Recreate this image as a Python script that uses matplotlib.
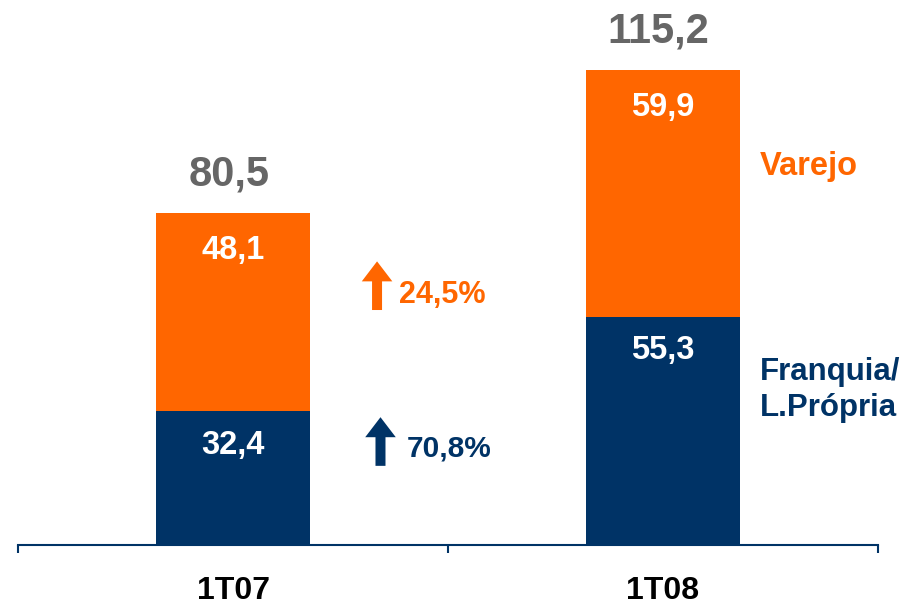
import matplotlib
matplotlib.use("Agg")
import matplotlib.pyplot as plt

plt.rcParams['font.family'] = ['Liberation Sans', 'DejaVu Sans']

categories = ['1T07', '1T08']
franquia = [32.4, 55.3]
varejo = [48.1, 59.9]
totals = [80.5, 115.2]
growth_varejo = '24,5%'
growth_franquia = '70,8%'

ORANGE = '#FF6600'
NAVY = '#003366'
GRAY = '#666666'

def fmt(v):
    return f"{v:.1f}".replace('.', ',')

fig = plt.figure(figsize=(9.08, 6.06), dpi=100)
ax = fig.add_axes([18/908, 61/606, 860/908, 545/606])
x = [0.5, 1.5]
w = 0.356
ax.bar(x, franquia, width=w, color=NAVY, zorder=2)
ax.bar(x, varejo, width=w, bottom=franquia, color=ORANGE, zorder=2)

ax.set_xlim(0, 2)
ax.set_ylim(0, 132.2)

for xi, f, v, t in zip(x, franquia, varejo, totals):
    ax.text(xi, f - 8.2, fmt(f), ha='center', va='center',
            color='white', fontsize=23.5, fontweight='bold')
    ax.text(xi, f + v - 9.0, fmt(v), ha='center', va='center',
            color='white', fontsize=23.5, fontweight='bold')
    ax.text(xi - 0.01, t + 4.5, fmt(t), ha='center', va='bottom',
            color=GRAY, fontsize=30, fontweight='bold')

arrow_style = 'simple,head_length=0.72,head_width=1.1,tail_width=0.36'
# growth arrows
ax.annotate('', xy=(0.835, 68.8), xytext=(0.835, 57),
            arrowprops=dict(arrowstyle=arrow_style, mutation_scale=20,
                            color=ORANGE, lw=0, shrinkA=0, shrinkB=0))
ax.text(0.887, 60.6, growth_varejo, ha='left', va='center', color=ORANGE,
        fontsize=22, fontweight='bold')
ax.annotate('', xy=(0.843, 31.0), xytext=(0.843, 19.2),
            arrowprops=dict(arrowstyle=arrow_style, mutation_scale=20,
                            color=NAVY, lw=0, shrinkA=0, shrinkB=0))
ax.text(0.903, 23.3, growth_franquia, ha='left', va='center', color=NAVY,
        fontsize=21.5, fontweight='bold')

# series labels
ax.text(1.725, 91.8, 'Varejo', ha='left', va='center', color=ORANGE,
        fontsize=23.5, fontweight='bold')
ax.text(1.725, 37.6, 'Franquia/\nL.Própria', ha='left', va='center', color=NAVY,
        fontsize=22.5, fontweight='bold', linespacing=1.28)

for s in ['top', 'right', 'left']:
    ax.spines[s].set_visible(False)
ax.spines['bottom'].set_color(NAVY)
ax.spines['bottom'].set_linewidth(1.5)
ax.set_yticks([])
ax.set_xticks(x)
ax.set_xticklabels(categories, fontsize=23, fontweight='bold', color='black')
ax.tick_params(axis='x', which='major', length=0, pad=22)
ax.set_xticks([0, 1, 2], minor=True)
ax.tick_params(axis='x', which='minor', length=6, width=1.5, color=NAVY)

fig.savefig('out.png', dpi=100)
